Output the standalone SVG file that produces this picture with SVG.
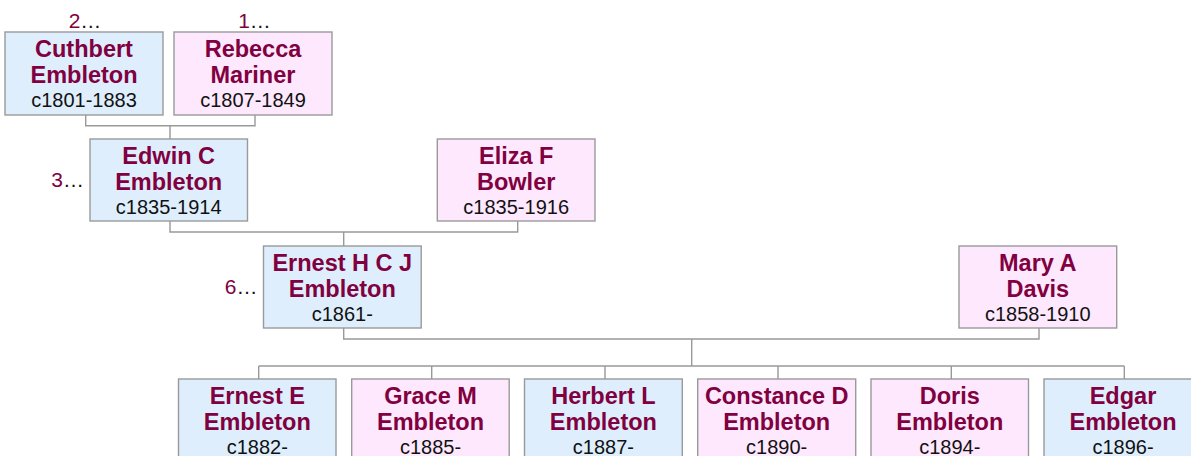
<svg xmlns="http://www.w3.org/2000/svg" width="1191" height="456" viewBox="0 0 1191 456">
<style>
.box{stroke:#9a9a9a;stroke-width:1.4}
.m{fill:#deeefd}
.f{fill:#fde8fd}
.n{font-family:"Liberation Sans",Arial,sans-serif;font-weight:bold;font-size:23.5px;fill:#800040;text-anchor:middle}
.d{font-family:"Liberation Sans",Arial,sans-serif;font-size:20px;fill:#111;text-anchor:middle}
.lbl{font-family:"Liberation Sans",Arial,sans-serif;font-size:21px;fill:#111}
.num{fill:#800040}
.con{fill:none;stroke:#999;stroke-width:1.4}
</style>
<rect width="1191" height="456" fill="#fff"/>
<g id="connectors" class="con">
<path d="M85.7,115 V125.7 H255 V115 M170,125.7 V139"/>
<path d="M170,221 V232 H517.7 V221 M343.7,232 V246"/>
<path d="M343.7,328 V339 H1039 V328 M691.7,339 V366"/>
<path d="M258.7,366 H1124.3 M258.7,366 V379 M431.7,366 V379 M605,366 V379 M778,366 V379 M951.3,366 V379 M1124.3,366 V379"/>
</g>
<g id="cuthbert">
<rect class="box m" x="5" y="32" width="158" height="83"/>
<text class="lbl" x="85" y="28" text-anchor="middle"><tspan class="num">2</tspan>…</text>
<text class="n" x="84" y="57">Cuthbert</text>
<text class="n" x="84" y="83">Embleton</text>
<text class="d" x="84" y="107">c1801-1883</text>
</g>
<g id="rebecca">
<rect class="box f" x="174" y="32" width="158" height="83"/>
<text class="lbl" x="254.5" y="28" text-anchor="middle"><tspan class="num">1</tspan>…</text>
<text class="n" x="253" y="57">Rebecca</text>
<text class="n" x="253" y="83">Mariner</text>
<text class="d" x="253" y="107">c1807-1849</text>
</g>
<g id="edwin">
<rect class="box m" x="90" y="139" width="157.5" height="82"/>
<text class="lbl" x="84" y="187" text-anchor="end"><tspan class="num">3</tspan>…</text>
<text class="n" x="168.7" y="164">Edwin C</text>
<text class="n" x="168.7" y="190">Embleton</text>
<text class="d" x="168.7" y="214">c1835-1914</text>
</g>
<g id="eliza">
<rect class="box f" x="437.3" y="139" width="157.7" height="82"/>
<text class="n" x="516.2" y="164">Eliza F</text>
<text class="n" x="516.2" y="190">Bowler</text>
<text class="d" x="516.2" y="214">c1835-1916</text>
</g>
<g id="ernest-hcj">
<rect class="box m" x="263.5" y="246" width="157.7" height="82"/>
<text class="lbl" x="257.5" y="294" text-anchor="end"><tspan class="num">6</tspan>…</text>
<text class="n" x="342.3" y="271">Ernest H C J</text>
<text class="n" x="342.3" y="297">Embleton</text>
<text class="d" x="342.3" y="321">c1861-</text>
</g>
<g id="mary">
<rect class="box f" x="959" y="246" width="157.7" height="82"/>
<text class="n" x="1037.8" y="271">Mary A</text>
<text class="n" x="1037.8" y="297">Davis</text>
<text class="d" x="1037.8" y="321">c1858-1910</text>
</g>
<g id="ernest-e">
<rect class="box m" x="178.5" y="379" width="157.5" height="82"/>
<text class="n" x="257.3" y="404">Ernest E</text>
<text class="n" x="257.3" y="430">Embleton</text>
<text class="d" x="257.3" y="454">c1882-</text>
</g>
<g id="grace">
<rect class="box f" x="351.7" y="379" width="157.5" height="82"/>
<text class="n" x="430.5" y="404">Grace M</text>
<text class="n" x="430.5" y="430">Embleton</text>
<text class="d" x="430.5" y="454">c1885-</text>
</g>
<g id="herbert">
<rect class="box m" x="524.5" y="379" width="157.8" height="82"/>
<text class="n" x="603.4" y="404">Herbert L</text>
<text class="n" x="603.4" y="430">Embleton</text>
<text class="d" x="603.4" y="454">c1887-</text>
</g>
<g id="constance">
<rect class="box f" x="697.7" y="379" width="158" height="82"/>
<text class="n" x="776.7" y="404">Constance D</text>
<text class="n" x="776.7" y="430">Embleton</text>
<text class="d" x="776.7" y="454">c1890-</text>
</g>
<g id="doris">
<rect class="box f" x="871" y="379" width="157.5" height="82"/>
<text class="n" x="949.8" y="404">Doris</text>
<text class="n" x="949.8" y="430">Embleton</text>
<text class="d" x="949.8" y="454">c1894-</text>
</g>
<g id="edgar">
<rect class="box m" x="1044" y="379" width="158" height="82"/>
<text class="n" x="1123" y="404">Edgar</text>
<text class="n" x="1123" y="430">Embleton</text>
<text class="d" x="1123" y="454">c1896-</text>
</g>
</svg>
